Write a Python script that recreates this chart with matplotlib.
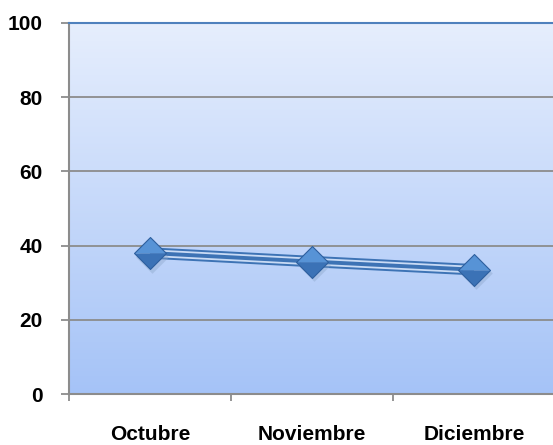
import numpy as np
import matplotlib
matplotlib.use('Agg')
import matplotlib.pyplot as plt
from matplotlib.colors import LinearSegmentedColormap

# Data
months = ['Octubre', 'Noviembre', 'Diciembre']
values = [38.0, 35.7, 33.5]
y_ticks = [0, 20, 40, 60, 80, 100]

plt.rcParams['font.family'] = ['Liberation Sans', 'DejaVu Sans']

fig = plt.figure(figsize=(5.53, 4.45), dpi=100)
ax = fig.add_axes([69/553, 51/445, 486/553, 371/445])

x = np.arange(1, len(months) + 1)

# Gradient background of the plot area
bg_cmap = LinearSegmentedColormap.from_list('bg', ['#a5c3f7', '#e6eefd'])
grad = np.linspace(0, 1, 256).reshape(-1, 1)
ax.imshow(grad, cmap=bg_cmap, origin='lower', aspect='auto',
          extent=[0.5, 3.5, 0, 100], zorder=0)

# Gridlines
for t in y_ticks[1:-1]:
    ax.axhline(t, color='#8c8c8c', lw=1.3, zorder=1)

# Double line (blue with light stripes)
ax.plot(x, values, color='#3d73b5', lw=8.2, solid_capstyle='butt', zorder=2)
ax.plot(x, values, color='#c9dbf5', lw=5.4, solid_capstyle='butt', zorder=3)
ax.plot(x, values, color='#3d73b5', lw=2.8, solid_capstyle='butt', zorder=4)

# Diamond markers with lighter top half
full = [(-1, 0), (0, 1), (1, 0), (0, -1), (-1, 0)]
top_half = [(-1, 0), (0, 1), (1, 0), (-1, 0)]
bottom_half = [(-1, 0), (0, -1), (1, 0), (-1, 0)]
ax.plot(x + 0.015, np.array(values) - 1.0, ls='none', marker=full, ms=23.5,
        mfc='#8aa4c8', mec='none', alpha=0.4, zorder=5)
ax.plot(x, values, ls='none', marker=top_half, ms=23,
        mfc='#5793d6', mec='none', zorder=6)
ax.plot(x, values, ls='none', marker=bottom_half, ms=23,
        mfc='#3b72b6', mec='none', zorder=6)
ax.plot(x, values, ls='none', marker=full, ms=23,
        mfc='none', mec='#2d5f9e', mew=0.8, zorder=7)

ax.set_xlim(0.5, 3.5)
ax.set_ylim(0, 100)
ax.set_yticks(y_ticks)
ax.set_xticks([0.5, 1.5, 2.5, 3.5], minor=False)
ax.set_xticklabels([])
ax.set_xticks(x, minor=True)
ax.set_xticklabels(months, minor=True, fontsize=15, fontweight='bold')
ax.tick_params(axis='x', which='minor', length=0, pad=22)
ax.tick_params(axis='x', which='major', length=5, width=1.3, color='#8c8c8c')
ax.tick_params(axis='y', length=6, width=1.3, color='#8c8c8c', pad=13,
               labelsize=15)
for lbl in ax.get_yticklabels():
    lbl.set_fontweight('bold')

ax.spines['left'].set_color('#8c8c8c')
ax.spines['left'].set_linewidth(1.5)
ax.spines['bottom'].set_color('#8c8c8c')
ax.spines['bottom'].set_linewidth(1.5)
ax.spines['top'].set_color('#4f81bd')
ax.spines['top'].set_linewidth(1.5)
ax.spines['right'].set_visible(False)

plt.savefig('out.png', dpi=100)
